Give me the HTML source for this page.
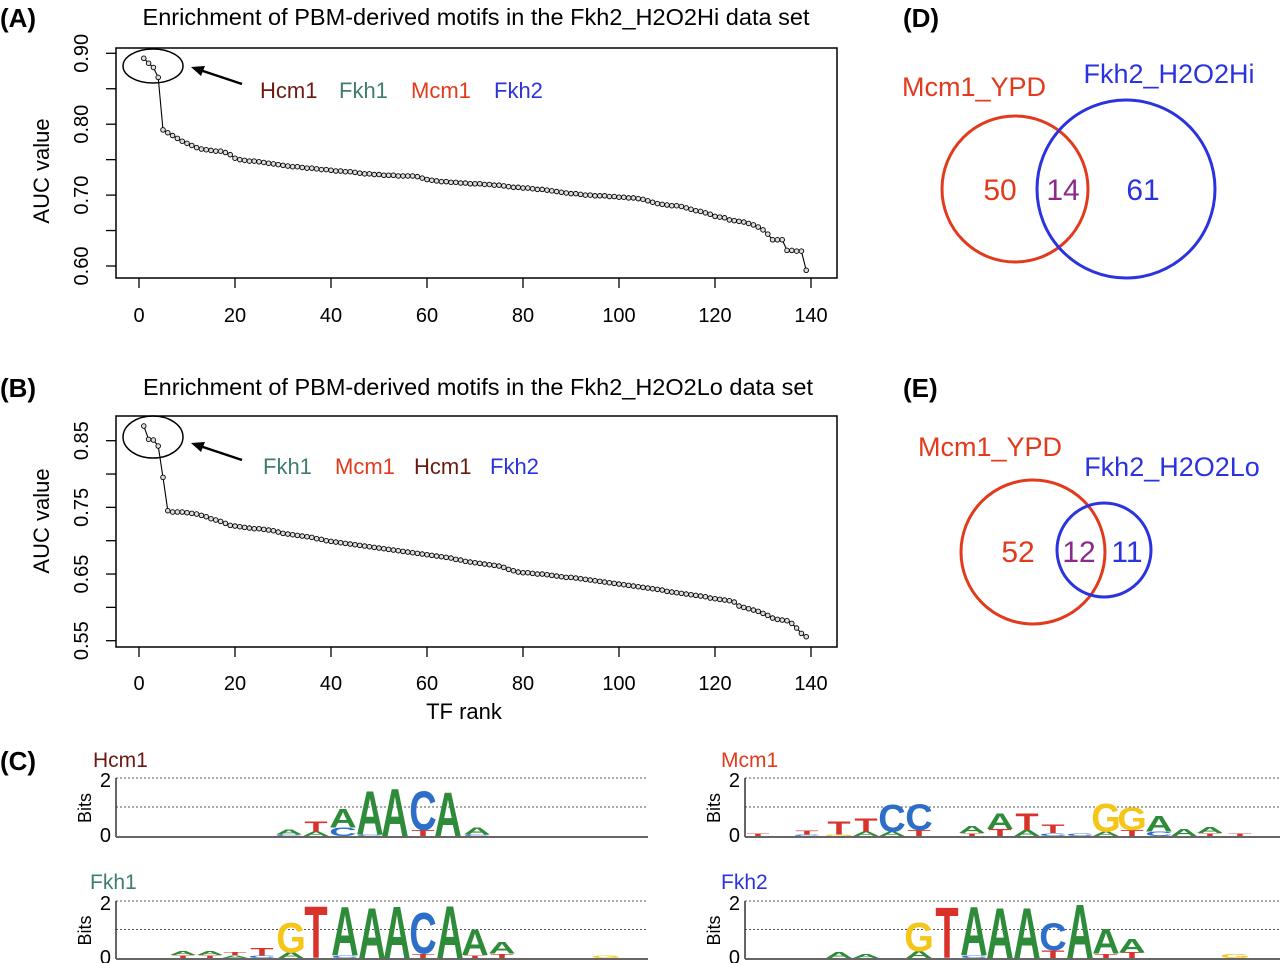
<!DOCTYPE html>
<html><head><meta charset="utf-8">
<style>
html,body{margin:0;padding:0;background:#fff;}
svg{display:block;font-family:"Liberation Sans",Arial,sans-serif;}
</style></head>
<body>
<svg id="fig" width="1280" height="963" viewBox="0 0 1280 963" xmlns="http://www.w3.org/2000/svg">
<g id="static">
  <text x="0" y="27" font-size="26" font-weight="bold">(A)</text>
  <text x="0" y="397" font-size="26" font-weight="bold">(B)</text>
  <text x="0" y="770" font-size="26" font-weight="bold">(C)</text>
  <text x="903" y="27" font-size="26" font-weight="bold">(D)</text>
  <text x="903" y="397" font-size="26" font-weight="bold">(E)</text>
  <text x="476" y="25" font-size="23" text-anchor="middle" textLength="667" lengthAdjust="spacingAndGlyphs">Enrichment of PBM-derived motifs in the Fkh2_H2O2Hi data set</text>
  <text x="478" y="395" font-size="23" text-anchor="middle" textLength="670" lengthAdjust="spacingAndGlyphs">Enrichment of PBM-derived motifs in the Fkh2_H2O2Lo data set</text>
  <text transform="translate(49,171) rotate(-90)" font-size="22" text-anchor="middle">AUC value</text>
  <text transform="translate(49,521) rotate(-90)" font-size="22" text-anchor="middle">AUC value</text>
  <text x="464" y="719" font-size="22" text-anchor="middle">TF rank</text>
  <ellipse cx="153" cy="66" rx="30" ry="17" fill="none" stroke="#000" stroke-width="1.5"/>
  <line x1="242" y1="84" x2="197" y2="69" stroke="#000" stroke-width="2.5"/>
  <polygon points="191,67 205,66 201,76" fill="#000"/>
  <text x="260" y="98" font-size="22" fill="#6b1a12">Hcm1</text>
  <text x="339" y="98" font-size="22" fill="#3f7d72">Fkh1</text>
  <text x="411" y="98" font-size="22" fill="#e23a1c">Mcm1</text>
  <text x="494" y="98" font-size="22" fill="#2a33de">Fkh2</text>
  <ellipse cx="153" cy="437" rx="30" ry="21" fill="none" stroke="#000" stroke-width="1.5"/>
  <line x1="242" y1="460" x2="197" y2="445" stroke="#000" stroke-width="2.5"/>
  <polygon points="191,443 205,442 201,452" fill="#000"/>
  <text x="263" y="474" font-size="22" fill="#3f7d72">Fkh1</text>
  <text x="335" y="474" font-size="22" fill="#e23a1c">Mcm1</text>
  <text x="414" y="474" font-size="22" fill="#6b1a12">Hcm1</text>
  <text x="490" y="474" font-size="22" fill="#2a33de">Fkh2</text>
  <circle cx="1015" cy="189" r="73" fill="none" stroke="#e23a1c" stroke-width="3"/>
  <circle cx="1126" cy="189" r="89" fill="none" stroke="#2a33de" stroke-width="3"/>
  <text x="974" y="96" font-size="27" fill="#e23a1c" text-anchor="middle">Mcm1_YPD</text>
  <text x="1169" y="83" font-size="27" fill="#2a33de" text-anchor="middle">Fkh2_H2O2Hi</text>
  <text x="1000" y="200" font-size="30" fill="#e23a1c" text-anchor="middle">50</text>
  <text x="1063" y="200" font-size="30" fill="#8a2a8a" text-anchor="middle">14</text>
  <text x="1143" y="200" font-size="30" fill="#2a33de" text-anchor="middle">61</text>
  <circle cx="1033" cy="552" r="72" fill="none" stroke="#e23a1c" stroke-width="3"/>
  <circle cx="1104" cy="550" r="47" fill="none" stroke="#2a33de" stroke-width="3"/>
  <text x="990" y="456" font-size="27" fill="#e23a1c" text-anchor="middle">Mcm1_YPD</text>
  <text x="1172" y="476" font-size="27" fill="#2a33de" text-anchor="middle">Fkh2_H2O2Lo</text>
  <text x="1018" y="562" font-size="30" fill="#e23a1c" text-anchor="middle">52</text>
  <text x="1079" y="562" font-size="30" fill="#8a2a8a" text-anchor="middle">12</text>
  <text x="1127" y="562" font-size="30" fill="#2a33de" text-anchor="middle">11</text>
</g>
<g id="dyn"></g>
</svg>
<script>
var aucA = [.893,.886,.880,.866,.792,
.788,.784,.780,.776,.773,.770,.767,.765,.764,.763,.762,.762,.760,.757,.752,
.750,.749,.748,.748,.747,.746,.745,.744,.743,.742,.741,.740,.740,.739,.738,.738,.737,.736,.736,.735,
.734,.734,.733,.733,.732,.731,.730,.730,.729,.729,.728,.728,.728,.727,.727,.727,.727,.726,.724,.722,
.721,.720,.719,.719,.718,.718,.717,.717,.716,.716,.716,.715,.715,.714,.714,.713,.712,.711,.711,.710,
.710,.709,.708,.708,.707,.706,.705,.704,.703,.702,.702,.701,.700,.700,.699,.699,.699,.698,.698,.697,
.697,.696,.696,.695,.694,.692,.690,.688,.687,.686,.685,.685,.684,.682,.680,.678,.677,.675,.673,.670,
.669,.668,.665,.664,.663,.662,.660,.658,.655,.651,.645,.637,.637,.637,.622,.622,.621,.621,.594];
var aucB = [.872,.852,.851,.842,.795,.745,
.743,.743,.743,.742,.741,.740,.738,.736,.733,.731,.729,.726,.723,.722,
.721,.720,.719,.718,.718,.717,.716,.715,.713,.711,.710,.709,.708,.707,.706,.705,.703,.702,.700,.699,
.698,.697,.696,.695,.694,.693,.692,.691,.690,.689,.688,.687,.686,.685,.684,.683,.682,.681,.680,.679,
.678,.677,.676,.675,.674,.672,.671,.669,.668,.667,.666,.665,.664,.663,.662,.660,.657,.655,.653,.652,
.652,.651,.650,.650,.649,.648,.647,.646,.645,.645,.644,.643,.642,.641,.640,.639,.638,.637,.636,.635,
.634,.633,.632,.631,.630,.629,.628,.627,.626,.624,.623,.622,.621,.620,.619,.618,.617,.616,.614,.613,
.612,.611,.610,.608,.602,.600,.598,.596,.594,.591,.588,.584,.582,.581,.580,.576,.569,.561,.556];
var xTicks = [0,20,40,60,80,100,120,140];
var yTicksA = [0.60,0.65,0.70,0.75,0.80,0.85,0.90];
var yLabelsA = ["0.60","","0.70","","0.80","","0.90"];
var yTicksB = [0.55,0.60,0.65,0.70,0.75,0.80,0.85];
var yLabelsB = ["0.55","","0.65","","0.75","","0.85"];
var logoHcm1 = [[289,"C",0.05,"A",0.18],[316,"A",0.15,"T",0.38],[343,"C",0.3,"A",0.66],[370,"C",0.05,"A",1.55],[395,"A",1.7],[423,"T",0.2,"C",1.4],[448,"A",1.57],[477,"C",0.05,"A",0.25]];
var logoFkh1 = [[183,"T",0.1,"A",0.15],[210,"T",0.1,"A",0.15],[235,"A",0.1,"T",0.12],[262,"C",0.08,"T",0.27],[291,"A",0.2,"G",1.08],[316,"T",1.88],[345,"C",0.08,"A",1.77],[372,"A",1.85],[397,"A",1.9],[423,"T",0.15,"C",1.48],[450,"A",1.92],[475,"T",0.1,"A",0.95],[502,"T",0.15,"A",0.43],[606,"G",0.08]];
var logoMcm1 = [[758,"T",0.1],[807,"C",0.05,"T",0.13],[839,"G",0.05,"T",0.45],[866,"A",0.15,"T",0.45],[892,"A",0.15,"C",0.98],[919,"T",0.2,"C",0.93],[972,"T",0.1,"A",0.25],[1000,"T",0.25,"A",0.55],[1027,"A",0.2,"T",0.6],[1053,"C",0.1,"T",0.3],[1080,"C",0.1],[1106,"A",0.15,"G",1.0],[1132,"T",0.2,"G",0.8],[1159,"C",0.15,"A",0.55],[1184,"A",0.25],[1210,"T",0.1,"A",0.2],[1240,"T",0.1]];
var logoFkh2 = [[839,"A",0.2],[866,"A",0.15],[919,"A",0.25,"G",1.03],[947,"T",1.85],[974,"C",0.08,"A",1.77],[1000,"A",1.85],[1027,"A",1.85],[1053,"T",0.28,"C",1.0],[1080,"A",1.95],[1106,"T",0.15,"A",0.9],[1132,"T",0.2,"A",0.5],[1235,"G",0.15]];

var NS = "http://www.w3.org/2000/svg";
var dyn = document.getElementById('dyn');
function mk(tag, attrs, parent){
  var e = document.createElementNS(NS, tag);
  for (var k in attrs) e.setAttribute(k, attrs[k]);
  (parent||dyn).appendChild(e);
  return e;
}
function xScale(r){ return 139 + r*4.8; }
function yScaleA(v){ return 53.3 + (0.90 - v)*709; }
function yScaleB(v){ return 440.7 + (0.85 - v)*666.7; }

function drawChart(id, data, yS, yT, yL, top, bottom, xLabY){
  var g = mk('g', {});
  
  
  var box = mk('rect', {x:116, y:top, width:721, height:bottom-top, fill:'none', stroke:'#000', 'stroke-width':1.5}, g);
  
  
  xTicks.forEach(function(t){
    var x = xScale(t);
    var tk = mk('line', {x1:x, y1:bottom, x2:x, y2:bottom+10, stroke:'#000', 'stroke-width':1.3}, g);
    
    
    var lb = mk('text', {x:x, y:xLabY, 'font-size':20, 'text-anchor':'middle'}, g);
    
    
    lb.textContent = t;
  });
  yT.forEach(function(t, i){
    var y = yS(t);
    var tk = mk('line', {x1:106, y1:y, x2:116, y2:y, stroke:'#000', 'stroke-width':1.3}, g);
    
    
    if (yL[i]) {
      var lb = mk('text', {transform:'translate(88,'+y+') rotate(-90)', 'font-size':20, 'text-anchor':'middle'}, g);
      
      
      lb.textContent = yL[i];
    }
  });
  var pts = data.map(function(v, i){ return xScale(i+1) + ',' + yS(v); }).join(' ');
  var ln = mk('polyline', {points:pts, fill:'none', stroke:'#000', 'stroke-width':1.1}, g);
  
  
  data.forEach(function(v, i){
    var c = mk('circle', {cx:xScale(i+1), cy:yS(v), r:2.3, fill:'#ddd', stroke:'#000', 'stroke-width':0.9}, g);
    
    
  });
}
drawChart('a', aucA, yScaleA, yTicksA, yLabelsA, 48, 278, 322);
drawChart('b', aucB, yScaleB, yTicksB, yLabelsB, 416, 647, 690);

var colors = {A:'#2e8b3a', C:'#2d6ec8', G:'#f5c518', T:'#d8322a'};
function drawLogo(name, color, data, ax, right, base, pxBit, nameX, nameY){
  var g = mk('g', {});
  
  
  var t = mk('text', {x:nameX, y:nameY, 'font-size':21, fill:color}, g);
  
  
  t.textContent = name;
  [1,2].forEach(function(b){
    var d = mk('line', {x1:ax, y1:base-b*pxBit, x2:right, y2:base-b*pxBit, stroke:'#555', 'stroke-width':1, 'stroke-dasharray':'2,2'}, g);
    
    
  });
  var va = mk('line', {x1:ax, y1:base-2*pxBit, x2:ax, y2:base+1, stroke:'#333', 'stroke-width':1.5}, g);
  
  
  var ha = mk('line', {x1:ax, y1:base+1, x2:right, y2:base+1, stroke:'#666', 'stroke-width':2}, g);
  
  
  var l2 = mk('text', {x:ax-5, y:base-2*pxBit+9, 'font-size':20, 'text-anchor':'end'}, g);
  
  
  l2.textContent = '2';
  var l0 = mk('text', {x:ax-5, y:base+6, 'font-size':20, 'text-anchor':'end'}, g);
  
  
  l0.textContent = '0';
  var bl = mk('text', {transform:'translate('+(ax-25)+','+(base-pxBit+1)+') rotate(-90)', 'font-size':18, 'text-anchor':'middle'}, g);
  
  
  bl.textContent = 'Bits';
  data.forEach(function(col){
    var x = col[0], y = base;
    for (var i = 1; i < col.length; i += 2) {
      var L = col[i], h = col[i+1]*pxBit;
      var sy = h/29, sx = 0.95;
      var lt = mk('text', {transform:'translate('+x+','+y+') scale('+sx+','+sy+')', 'font-size':40, 'font-weight':'bold', 'text-anchor':'middle', fill:colors[L]}, g);
      
      
      lt.textContent = L;
      y -= h;
    }
  });
}
drawLogo('Hcm1', '#6b1a12', logoHcm1, 116, 648, 836, 29, 93, 767);
drawLogo('Fkh1', '#3f7d72', logoFkh1, 116, 648, 958, 28.5, 90, 889);
drawLogo('Mcm1', '#e23a1c', logoMcm1, 745, 1280, 836, 29, 721, 767);
drawLogo('Fkh2', '#2a33de', logoFkh2, 745, 1280, 958, 28.5, 721, 889);
</script>
</body></html>
